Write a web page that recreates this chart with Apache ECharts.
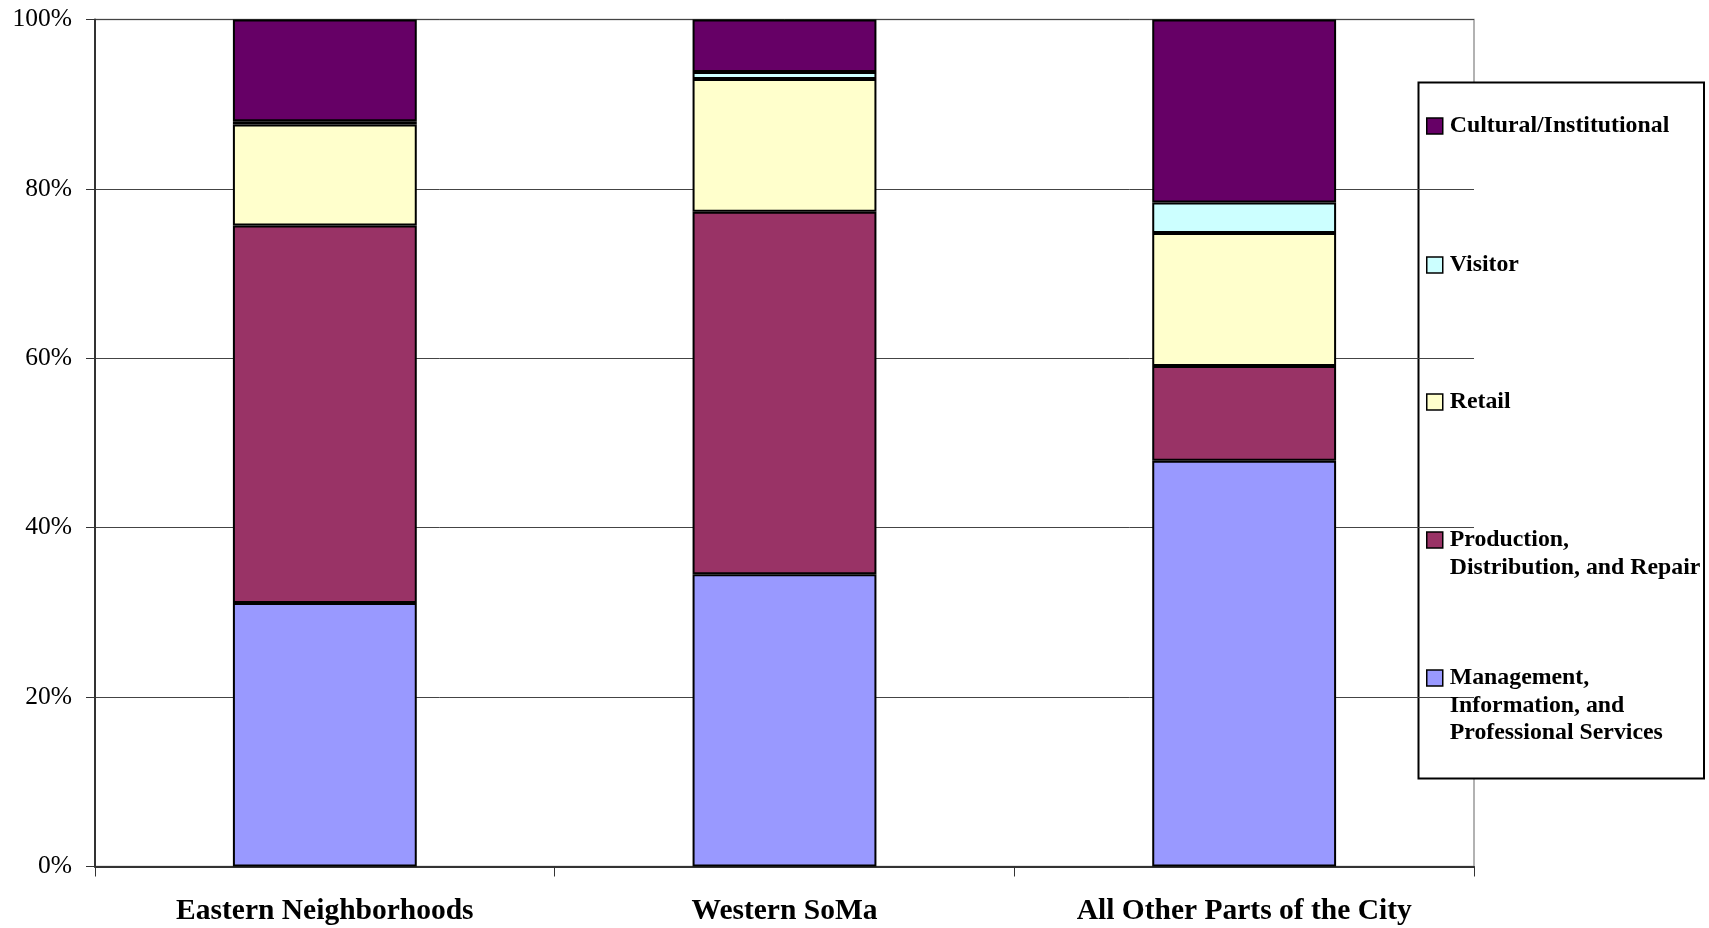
<!DOCTYPE html>
<html>
<head>
<meta charset="utf-8">
<script src="https://cdn.jsdelivr.net/npm/echarts@6/dist/echarts.min.js"></script>
<style>
html,body{margin:0;padding:0;background:#fff;}
#chart{width:1709px;height:928px;}
</style>
</head>
<body>
<div id="chart"></div>
<script>
const categories = ['Eastern Neighborhoods', 'Western SoMa', 'All Other Parts of the City'];
const yTicks = [0, 20, 40, 60, 80, 100];
const management = [31.1, 34.5, 47.9];
const production = [44.6, 42.8, 11.2];
const retail = [11.9, 15.7, 15.7];
const visitor = [0.4, 0.8, 3.6];
const cultural = [12.0, 6.2, 21.6];

const seriesNames = [
  'Management, Information, and Professional Services',
  'Production, Distribution, and Repair',
  'Retail',
  'Visitor',
  'Cultural/Institutional'
];
const legendLines = {
  'Cultural/Institutional': ['Cultural/Institutional'],
  'Visitor': ['Visitor'],
  'Retail': ['Retail'],
  'Production, Distribution, and Repair': ['Production,', 'Distribution, and Repair'],
  'Management, Information, and Professional Services': ['Management,', 'Information, and', 'Professional Services']
};
const colors = ['#9999FF', '#993366', '#FFFFCC', '#CCFFFF', '#660066'];
const values = [management, production, retail, visitor, cultural];

const FONT = 'Liberation Serif';
const LH = 27.6;
const legendCenters = {
  'Cultural/Institutional': 126,
  'Visitor': 265,
  'Retail': 402,
  'Production, Distribution, and Repair': 540,
  'Management, Information, and Professional Services': 678
};

const legends = Object.keys(legendCenters).map(name => {
  const lines = legendLines[name];
  const n = lines.length;
  const blanks = new Array(n - 1).fill('');
  const total = 2 * n - 1;
  return {
    data: [name],
    orient: 'vertical',
    left: 1426,
    top: legendCenters[name] - total * LH / 2,
    padding: 0,
    itemWidth: 16,
    itemHeight: 16,
    itemGap: 0,
    icon: 'rect',
    itemStyle: {borderColor: '#000', borderWidth: 1.5},
    formatter: () => blanks.concat(lines).join('\n'),
    textStyle: {fontFamily: FONT, fontWeight: 'bold', fontSize: 23.8, color: '#000', lineHeight: LH, padding: [0, 0, 0, 2]}
  };
});

const chart = echarts.init(document.getElementById('chart'));
chart.setOption({
  backgroundColor: '#fff',
  animation: false,
  grid: {left: 95, right: 235, top: 19.6, bottom: 61.5, show: true, borderColor: '#999', borderWidth: 1.5, backgroundColor: 'transparent'},
  legend: legends,
  graphic: [{
    type: 'rect',
    shape: {x: 1418.5, y: 82.5, width: 285.5, height: 696},
    style: {fill: '#fff', stroke: '#000', lineWidth: 2},
    z: 0
  }],
  xAxis: {
    type: 'category',
    data: categories,
    axisLine: {lineStyle: {color: '#333', width: 2}},
    axisTick: {show: true, length: 10, lineStyle: {color: '#333', width: 1}},
    axisLabel: {fontFamily: FONT, fontWeight: 'bold', fontSize: 29.5, color: '#000', margin: 30}
  },
  yAxis: {
    type: 'value',
    min: 0, max: 100, interval: 20,
    axisLine: {show: true, lineStyle: {color: '#333', width: 2}},
    axisTick: {show: true, length: 9, lineStyle: {color: '#333'}},
    axisLabel: {fontFamily: FONT, fontSize: 25.5, color: '#000', margin: 23,
      formatter: v => yTicks.indexOf(v) >= 0 ? v + '%' : ''},
    splitLine: {lineStyle: {color: '#444', width: 1}}
  },
  series: seriesNames.map((name, i) => ({
    name: name,
    type: 'bar',
    stack: 'total',
    data: values[i],
    barWidth: '40%',
    itemStyle: {color: colors[i], borderColor: '#000', borderWidth: 2},
    z: 3
  }))
});
</script>
</body>
</html>
